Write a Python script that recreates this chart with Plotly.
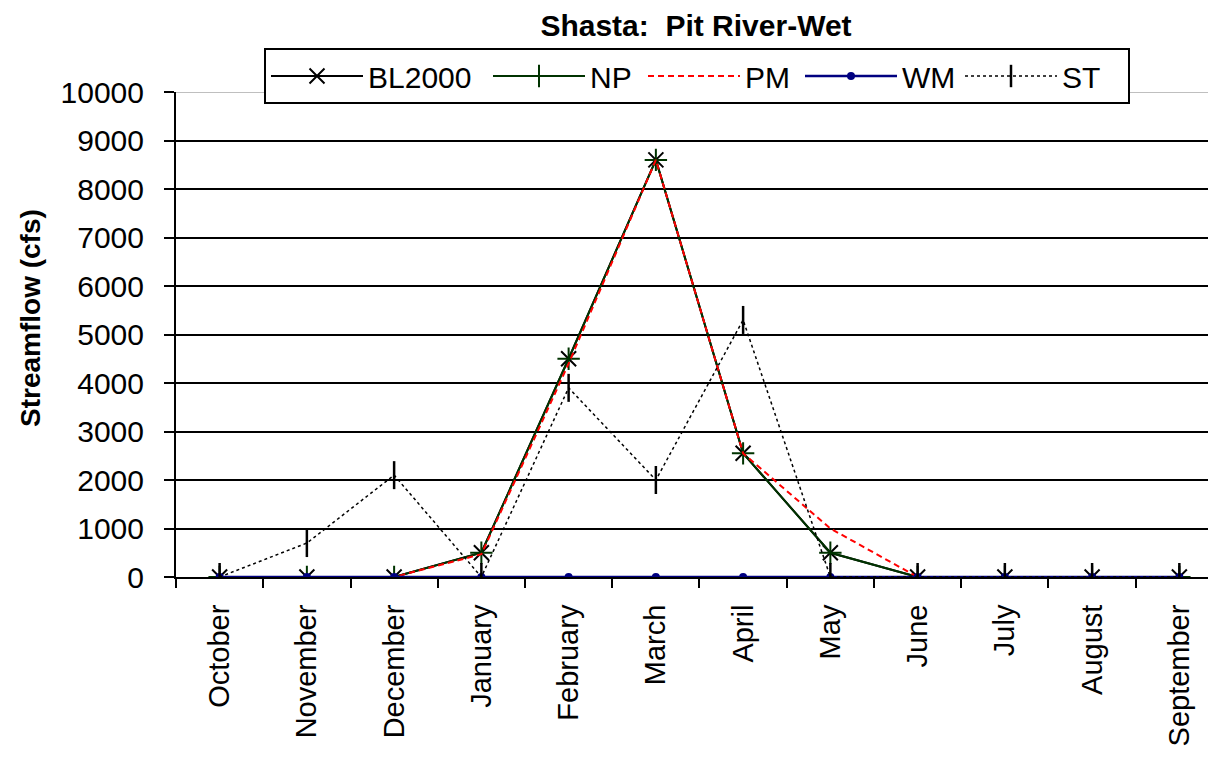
import plotly.graph_objects as go

months = ["October", "November", "December", "January", "February", "March",
          "April", "May", "June", "July", "August", "September"]
bl2000 = [0, 0, 0, 500, 4500, 8600, 2550, 500, 0, 0, 0, 0]
np_vals = [0, 0, 0, 500, 4500, 8600, 2550, 500, 0, 0, 0, 0]
pm = [0, 0, 0, 470, 4400, 8600, 2550, 1000, 0, 0, 0, 0]
wm = [0, 0, 0, 0, 0, 0, 0, 0, 0, 0, 0, 0]
st = [0, 700, 2100, 0, 3900, 2000, 5300, 0, 0, 0, 0, 0]
y_ticks = [0, 1000, 2000, 3000, 4000, 5000, 6000, 7000, 8000, 9000, 10000]
y_ticktext = [str(v) for v in y_ticks]

FONT = "Liberation Sans, Arial, sans-serif"

# page has an 8px body margin; figure coordinates are screen minus 8
W, H = 1208, 752
PL, PT, PB = 168, 84, 569  # plot left, top, bottom in figure px
PW, PH = W - PL, PB - PT

fig = go.Figure()
fig.add_trace(go.Scatter(x=months, y=bl2000, name="BL2000", mode="lines+markers",
                         line=dict(color="black", width=2),
                         marker=dict(symbol="x-thin", size=15, line=dict(color="black", width=2)),
                         legendwidth=115))
fig.add_trace(go.Scatter(x=months, y=np_vals, name="NP", mode="lines+markers",
                         line=dict(color="#003300", width=2),
                         marker=dict(symbol="cross-thin", size=16, line=dict(color="#003300", width=2)),
                         legendwidth=48))
fig.add_trace(go.Scatter(x=months, y=pm, name="PM", mode="lines",
                         line=dict(color="#ff0000", width=2, dash="6px,4px"),
                         legendwidth=50))
fig.add_trace(go.Scatter(x=months, y=wm, name="WM", mode="lines+markers",
                         line=dict(color="#000080", width=2.5),
                         marker=dict(symbol="circle", size=8, color="#000080"),
                         legendwidth=53))
fig.add_trace(go.Scatter(x=months, y=st, name="ST", mode="lines+markers",
                         line=dict(color="black", width=1.5, dash="dot"),
                         marker=dict(symbol="line-ns", size=20, line=dict(color="black", width=2.5)),
                         legendwidth=61))

fig.update_layout(
    width=W, height=H,
    margin=dict(l=PL, r=0, t=PT, b=H - PB, autoexpand=False),
    paper_bgcolor="white", plot_bgcolor="white",
    font=dict(family=FONT, size=29, color="black"),
    title=dict(text="<b>Shasta:  Pit River-Wet</b>", x=0.5, xref="paper",
               y=1 - 17 / H, yref="container", yanchor="middle", xanchor="center",
               font=dict(size=30, family=FONT, color="black")),
    showlegend=True,
    legend=dict(orientation="h", x=(256 - PL) / PW, y=(PB - 40) / PH,
                xanchor="left", yanchor="top", bgcolor="white",
                bordercolor="black", borderwidth=2, itemwidth=92,
                font=dict(size=30, family=FONT), traceorder="normal"),
    xaxis=dict(type="category", range=[-0.5, 11.42], showgrid=False,
               showline=True, linecolor="black", linewidth=2,
               ticks="outside", tickson="boundaries", ticklen=9, tickwidth=2, tickcolor="black",
               tickangle=-90, tickfont=dict(size=29, family=FONT),
               ticklabelstandoff=14, zeroline=False),
    yaxis=dict(range=[0, 10000], tickvals=y_ticks, ticktext=y_ticktext, showgrid=False,
               showline=True, linecolor="black", linewidth=2,
               ticks="outside", ticklen=10, tickwidth=2, tickcolor="black",
               tickfont=dict(size=30, family=FONT), ticklabelstandoff=14,
               zeroline=False,
               minor=dict(tickvals=y_ticks[1:-1], showgrid=True, gridcolor="black",
                          gridwidth=2, ticks="")),
    annotations=[dict(text="<b>Streamflow (cfs)</b>", textangle=-90,
                      x=(22 - PL) / PW, y=(PB - 310) / PH, xref="paper", yref="paper",
                      xanchor="center", yanchor="middle", showarrow=False,
                      font=dict(size=28, family=FONT, color="black"))],
    shapes=[dict(type="line", xref="paper", yref="y", x0=0, x1=1, y0=10000, y1=10000,
                 line=dict(color="#808080", width=1), layer="below")],
)

fig.write_html("out.html")
